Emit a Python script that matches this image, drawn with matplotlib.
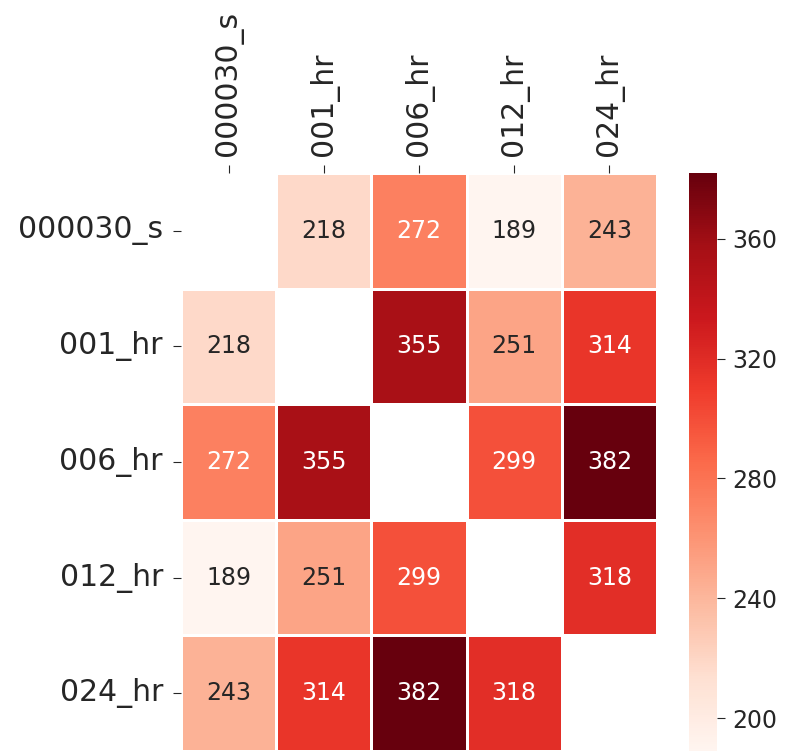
import numpy as np
import matplotlib
matplotlib.use("Agg")
import matplotlib.pyplot as plt
import seaborn as sns

# pairwise scores between sampling intervals (diagonal left empty)
labels = ["000030_s", "001_hr", "006_hr", "012_hr", "024_hr"]
row_000030_s = [np.nan, 218, 272, 189, 243]
row_001_hr = [218, np.nan, 355, 251, 314]
row_006_hr = [272, 355, np.nan, 299, 382]
row_012_hr = [189, 251, 299, np.nan, 318]
row_024_hr = [243, 314, 382, 318, np.nan]
cbar_ticks = [200, 240, 280, 320, 360]

matrix = np.array([row_000030_s, row_001_hr, row_006_hr, row_012_hr, row_024_hr])

fig = plt.figure(figsize=(7.9, 7.51), dpi=100)
ax = fig.add_axes([181 / 790, 0, 476 / 790, 578 / 751])
cax = fig.add_axes([689 / 790, 0, 28 / 790, 578 / 751])

sns.heatmap(matrix, ax=ax, cbar_ax=cax, cmap="Reds", annot=True, fmt="g",
            linewidths=1, linecolor="white",
            annot_kws={"size": 17},
            xticklabels=labels, yticklabels=labels)

ax.xaxis.tick_top()
ax.tick_params(axis="x", labelsize=21.5, rotation=90, length=6, pad=6, colors="#262626")
ax.tick_params(axis="y", labelsize=21.5, rotation=0, length=6, pad=7, colors="#262626")

cax.set_yticks(cbar_ticks)
cax.tick_params(labelsize=17, length=6, pad=5, colors="#262626")

fig.savefig("out.png", dpi=100)
